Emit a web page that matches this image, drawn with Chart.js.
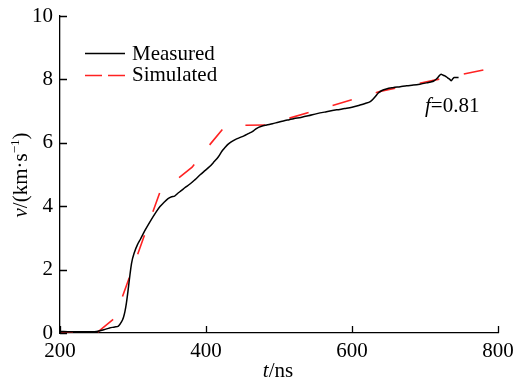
<!DOCTYPE html>
<html>
<head>
<meta charset="utf-8">
<script src="https://cdn.jsdelivr.net/npm/chart.js@4"></script>
<style>
  html, body { margin: 0; background: #fff; }
  #wrap { width: 513px; height: 383px; }
</style>
</head>
<body>
<div id="wrap"><canvas id="velChart"></canvas></div>
<script>
// measured velocity trace (ns, km/s)
const measuredT = [200, 215, 230, 245, 250, 260, 268, 275, 280, 284, 287, 289, 291, 293, 295, 298, 302, 306, 310, 316,
  323, 332, 337, 342, 348, 353, 357, 361, 366, 372, 378, 385, 392, 399, 405, 411, 417, 422, 426, 430,
  434, 440, 447, 452, 458, 464, 469, 476, 483, 491, 499, 506, 514, 520, 530, 540, 552, 565, 579, 590,
  600, 611, 618, 625, 629, 632, 636, 641, 647, 656, 666, 675, 684, 693, 702, 708, 712, 716, 719, 722,
  725, 728, 731, 734, 736, 738, 740, 746];
const measuredV = [0.05, 0.04, 0.04, 0.04, 0.05, 0.1, 0.16, 0.19, 0.22, 0.34, 0.5, 0.68, 0.95, 1.3, 1.68, 2.2, 2.55, 2.78, 2.95, 3.22,
  3.5, 3.83, 3.99, 4.11, 4.24, 4.3, 4.32, 4.4, 4.49, 4.6, 4.7, 4.84, 4.99, 5.13, 5.25, 5.4, 5.56, 5.74, 5.85, 5.95,
  6.02, 6.1, 6.17, 6.22, 6.29, 6.36, 6.45, 6.52, 6.56, 6.6, 6.65, 6.69, 6.73, 6.76, 6.8, 6.85, 6.92, 6.98, 7.04, 7.08,
  7.12, 7.19, 7.24, 7.3, 7.38, 7.46, 7.57, 7.65, 7.7, 7.74, 7.77, 7.8, 7.82, 7.85, 7.89, 7.92, 7.95, 8.02, 8.1, 8.16,
  8.13, 8.1, 8.05, 8.0, 7.96, 8.02, 8.06, 8.06];

// simulated curve
const simT = [200, 250, 275, 337, 359, 381, 403, 427, 482, 640, 787];
const simV = [0, 0, 0.47, 4.45, 4.83, 5.23, 5.88, 6.55, 6.56, 7.63, 8.33];

const xTicks = [200, 400, 600, 800];
const yTicks = [0, 2, 4, 6, 8, 10];
const fitLabel = "0.81";

const SERIF = '"Liberation Serif", "Times New Roman", serif';
const FS = 21;
const RED = "#ff2222";

function toPoints(xs, ys) {
  return xs.map((x, i) => ({ x, y: ys[i] }));
}

function fontFor(s) {
  if (s === "i") return `italic ${FS}px ${SERIF}`;
  if (s === "s") return `${Math.round(FS * 0.62)}px ${SERIF}`;
  return `${FS}px ${SERIF}`;
}
// text made of pieces: [text, "n" | "i" | "s"]
function richWidth(ctx, parts) {
  let w = 0;
  parts.forEach(([t, s]) => {
    ctx.font = fontFor(s);
    w += ctx.measureText(t).width;
  });
  return w;
}
function drawRich(ctx, parts, x, y) {
  ctx.textAlign = "left";
  ctx.textBaseline = "alphabetic";
  parts.forEach(([t, s]) => {
    ctx.font = fontFor(s);
    ctx.fillText(t, x, s === "s" ? y - FS * 0.38 : y);
    x += ctx.measureText(t).width;
  });
}

const decorPlugin = {
  id: "decor",
  afterDraw(chart) {
    const { ctx, scales } = chart;
    const xs = scales.x;
    const ys = scales.y;
    const area = chart.chartArea;
    ctx.save();
    ctx.strokeStyle = "#000";
    ctx.fillStyle = "#000";
    ctx.lineWidth = 1.3;

    // inward tick marks
    ctx.beginPath();
    xTicks.forEach((v) => {
      const px = Math.round(xs.getPixelForValue(v)) + 0.5;
      ctx.moveTo(px, area.bottom);
      ctx.lineTo(px, area.bottom - 7);
    });
    yTicks.forEach((v) => {
      const py = Math.round(ys.getPixelForValue(v)) + 0.5;
      ctx.moveTo(area.left, py);
      ctx.lineTo(area.left + 7, py);
    });
    ctx.stroke();

    // axis titles
    const xt = [["t", "i"], ["/ns", "n"]];
    drawRich(ctx, xt, 278 - richWidth(ctx, xt) / 2, 377);

    const yt = [["v", "i"], ["/(km\u00b7s", "n"], ["\u22121", "s"], [")", "n"]];
    ctx.save();
    ctx.translate(27, 175);
    ctx.rotate(-Math.PI / 2);
    drawRich(ctx, yt, -richWidth(ctx, yt) / 2, 0);
    ctx.restore();

    // legend
    ctx.lineWidth = 1.5;
    ctx.beginPath();
    ctx.moveTo(85, 53.5);
    ctx.lineTo(125, 53.5);
    ctx.stroke();
    ctx.strokeStyle = RED;
    ctx.setLineDash([17, 6]);
    ctx.beginPath();
    ctx.moveTo(85, 75.5);
    ctx.lineTo(125, 75.5);
    ctx.stroke();
    ctx.setLineDash([]);
    drawRich(ctx, [["Measured", "n"]], 132, 60);
    drawRich(ctx, [["Simulated", "n"]], 132, 81);

    // fit factor note
    drawRich(ctx, [["f", "i"], ["=" + fitLabel, "n"]], 425, 112);
    ctx.restore();
  },
};

new Chart(document.getElementById("velChart"), {
  type: "line",
  data: {
    datasets: [
      {
        label: "Measured",
        data: toPoints(measuredT, measuredV),
        borderColor: "#000",
        borderWidth: 1.5,
        pointRadius: 0,
        cubicInterpolationMode: "monotone",
        fill: false,
      },
      {
        label: "Simulated",
        data: toPoints(simT, simV),
        borderColor: RED,
        borderWidth: 1.6,
        borderDash: [20, 25],
        borderDashOffset: 7,
        pointRadius: 0,
        tension: 0,
        fill: false,
      },
    ],
  },
  options: {
    responsive: true,
    maintainAspectRatio: false,
    animation: false,
    layout: { padding: { top: 16, right: 15, left: 0, bottom: 0 } },
    plugins: { legend: { display: false }, tooltip: { enabled: false } },
    scales: {
      x: {
        type: "linear",
        min: 200,
        max: 800,
        afterFit: (s) => {
          s.height = 50;
          s.paddingLeft = 0;
          s.paddingRight = 0;
        },
        afterBuildTicks: (s) => { s.ticks = xTicks.map((v) => ({ value: v })); },
        grid: { display: false, drawTicks: false },
        border: { display: true, color: "#000", width: 1.3 },
        ticks: { color: "#000", padding: 6, maxRotation: 0, font: { family: SERIF, size: FS } },
      },
      y: {
        min: 0,
        max: 10,
        afterFit: (s) => {
          s.width = 60;
          s.paddingTop = 0;
          s.paddingBottom = 0;
        },
        afterBuildTicks: (s) => { s.ticks = yTicks.map((v) => ({ value: v })); },
        grid: { display: false, drawTicks: false },
        border: { display: true, color: "#000", width: 1.3 },
        ticks: { color: "#000", padding: 7, font: { family: SERIF, size: FS } },
      },
    },
  },
  plugins: [decorPlugin],
});
</script>
</body>
</html>
